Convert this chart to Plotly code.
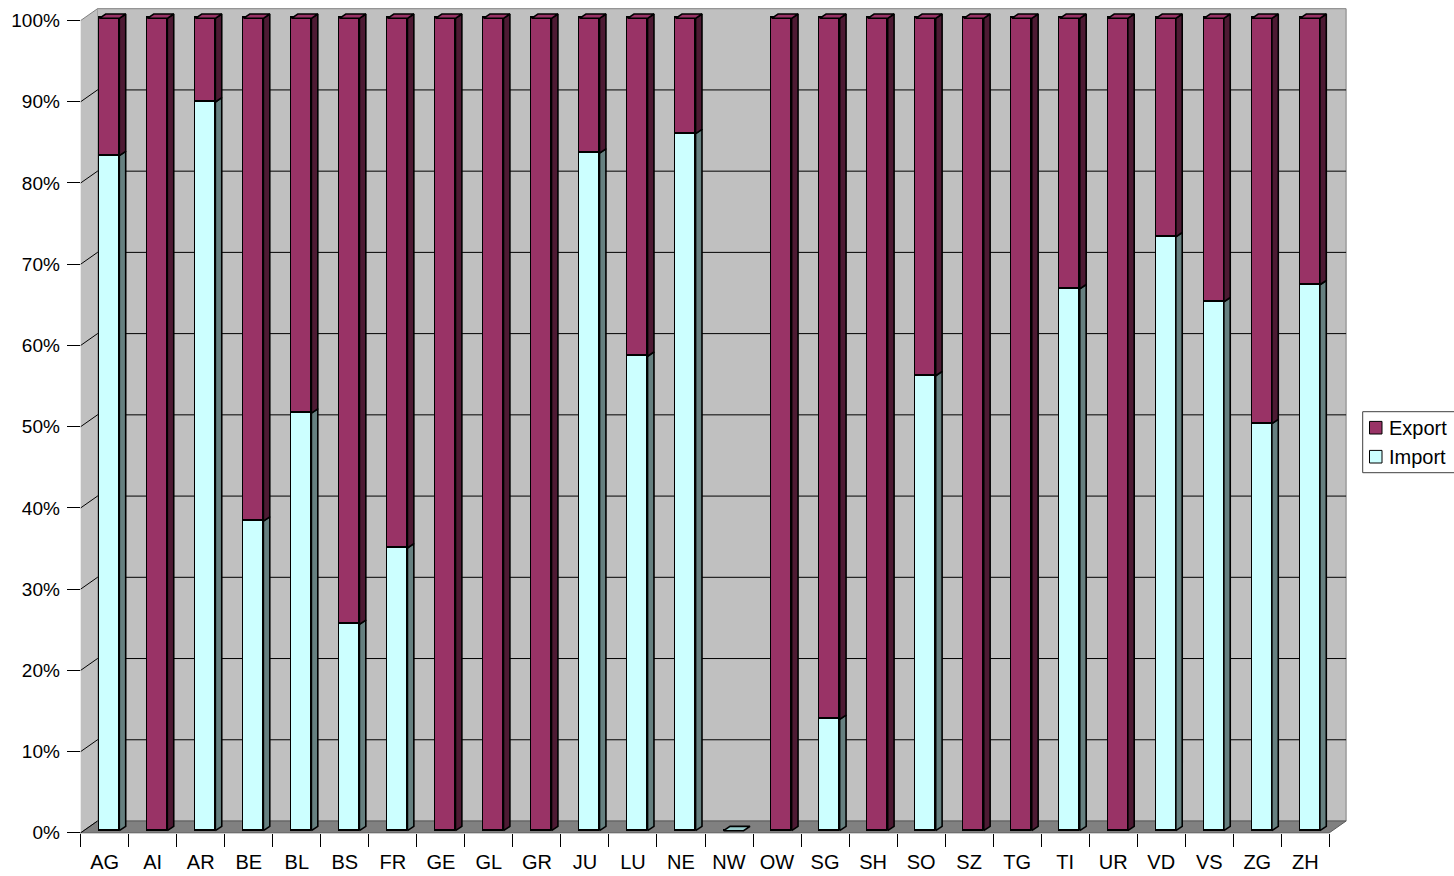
import plotly.graph_objects as go

# ---------------------------------------------------------------- data
cantons = ["AG", "AI", "AR", "BE", "BL", "BS", "FR", "GE", "GL", "GR", "JU", "LU", "NE",
           "NW", "OW", "SG", "SH", "SO", "SZ", "TG", "TI", "UR", "VD", "VS", "ZG", "ZH"]
import_pct = [83.1, 0, 89.7, 38.1, 51.4, 25.4, 34.8, 0, 0, 0, 83.4, 58.4, 85.8,
              0, 0, 13.7, 0, 56.0, 0, 0, 66.7, 0, 73.1, 65.1, 50.1, 67.2]
export_pct = [16.9, 100, 10.3, 61.9, 48.6, 74.6, 65.2, 100, 100, 100, 16.6, 41.6, 14.2,
              0, 100, 86.3, 100, 44.0, 100, 100, 33.3, 100, 26.9, 34.9, 49.9, 32.8]
pct_ticks = [0, 10, 20, 30, 40, 50, 60, 70, 80, 90, 100]
pct_labels = [f"{t}%" for t in pct_ticks]

# ---------------------------------------------------------------- style
W, H = 1454, 876
FONT = "Arial, Liberation Sans, sans-serif"
EXPORT_FRONT, EXPORT_SIDE = "#993366", "#4d1a33"
IMPORT_FRONT, IMPORT_SIDE = "#ccffff", "#668080"
WALL, FLOOR = "#c0c0c0", "#808080"

# pixel layout of the pseudo-3D box
FX0, FX1 = 80.7, 1329.3          # front plane, left / right
FY0, FY100 = 832.8, 20.5         # front plane, 0 % / 100 %
DX, DY = 16.8, -11.8             # depth of the box (front -> back wall)
BX0, BX1 = FX0 + DX, FX1 + DX
BY0, BY100 = FY0 + DY, FY100 + DY

# bars sit slightly behind the front plane
BAR_SHIFT_X, BAR_Y0, BAR_SCALE = 4.6, 830.7, 8.124
BAR_RANGE = [-0.8, 102.0]
BAR_W = 0.4165                   # front face width, in category units
SIDE_DX = 0.1333                 # bar depth, in category units
SIDE_DY = 0.53                   # bar depth, in percent units


def px(x):
    return x / W


def py(y):
    return 1 - y / H


def path(points):
    return "M " + " L ".join(f"{px(x):.6f},{py(y):.6f}" for x, y in points) + " Z"


def fy(v):
    return FY0 + (FY100 - FY0) * v / 100


def by(v):
    return BY0 + (BY100 - BY0) * v / 100


shapes = []
# back wall
shapes.append(dict(type="rect", xref="paper", yref="paper", layer="below",
                   x0=px(BX0), x1=px(BX1), y0=py(BY0), y1=py(BY100),
                   fillcolor=WALL, line=dict(color="#808080", width=1)))
# left side wall
shapes.append(dict(type="path", xref="paper", yref="paper", layer="below",
                   path=path([(FX0, FY0), (FX0, FY100), (BX0, BY100), (BX0, BY0)]),
                   fillcolor=WALL, line=dict(width=0)))
# floor
shapes.append(dict(type="path", xref="paper", yref="paper", layer="below",
                   path=path([(FX0, FY0), (FX1, FY0), (BX1, BY0), (BX0, BY0)]),
                   fillcolor=FLOOR, line=dict(color="#5a5a5a", width=1)))
# gridlines on the back wall and the side wall
for t in pct_ticks[1:-1]:
    shapes.append(dict(type="line", xref="paper", yref="paper", layer="below",
                       x0=px(BX0), x1=px(BX1), y0=py(by(t)), y1=py(by(t)),
                       line=dict(color="black", width=1)))
for t in pct_ticks[:-1]:
    shapes.append(dict(type="line", xref="paper", yref="paper", layer="below",
                       x0=px(FX0), x1=px(BX0), y0=py(fy(t)), y1=py(by(t)),
                       line=dict(color="black", width=1)))
shapes.append(dict(type="line", xref="paper", yref="paper", layer="below",
                   x0=px(FX0), x1=px(BX0), y0=py(fy(100)), y1=py(by(100)),
                   line=dict(color="#808080", width=1)))

# ---------------------------------------------------------------- bar faces
idx = list(range(len(cantons)))


def side_faces(lo_vals, hi_vals):
    xs, ys = [], []
    for i, lo, hi in zip(idx, lo_vals, hi_vals):
        if hi <= lo:
            continue
        xr = i + BAR_W / 2
        xs += [xr, xr + SIDE_DX, xr + SIDE_DX, xr, xr, None]
        ys += [lo, lo + SIDE_DY, hi + SIDE_DY, hi, lo, None]
    return xs, ys


def top_faces(tops, which):
    xs, ys = [], []
    for i, t, w in zip(idx, tops, which):
        if not w:
            continue
        xl, xr = i - BAR_W / 2, i + BAR_W / 2
        xs += [xl, xr, xr + SIDE_DX, xl + SIDE_DX, xl, None]
        ys += [t, t, t + SIDE_DY, t + SIDE_DY, t, None]
    return xs, ys


totals = [a + b for a, b in zip(import_pct, export_pct)]

fig = go.Figure()

# invisible trace that carries the category axis
fig.add_trace(go.Scatter(x=cantons, y=[0] * len(cantons), mode="markers",
                         marker=dict(opacity=0), hoverinfo="skip", showlegend=False))

outline = dict(color="black", width=1.6)
fig.add_trace(go.Bar(x=idx, y=import_pct, name="Import", width=BAR_W,
                     marker=dict(color=IMPORT_FRONT, line=outline),
                     xaxis="x3", yaxis="y3", showlegend=False))
fig.add_trace(go.Bar(x=idx, y=export_pct, name="Export", width=BAR_W,
                     marker=dict(color=EXPORT_FRONT, line=outline),
                     xaxis="x3", yaxis="y3", showlegend=False))

sx, sy = side_faces([0] * len(idx), import_pct)
fig.add_trace(go.Scatter(x=sx, y=sy, mode="lines", fill="toself", fillcolor=IMPORT_SIDE,
                         line=outline, xaxis="x3", yaxis="y3",
                         hoverinfo="skip", showlegend=False))
sx, sy = side_faces(import_pct, totals)
fig.add_trace(go.Scatter(x=sx, y=sy, mode="lines", fill="toself", fillcolor=EXPORT_SIDE,
                         line=outline, xaxis="x3", yaxis="y3",
                         hoverinfo="skip", showlegend=False))
tx, ty = top_faces(totals, [e > 0 for e in export_pct])
fig.add_trace(go.Scatter(x=tx, y=ty, mode="lines", fill="toself", fillcolor=EXPORT_FRONT,
                         line=outline, xaxis="x3", yaxis="y3",
                         hoverinfo="skip", showlegend=False))
tx, ty = top_faces(totals, [e == 0 for e in export_pct])
fig.add_trace(go.Scatter(x=tx, y=ty, mode="lines", fill="toself", fillcolor="#99cccc",
                         line=outline, xaxis="x3", yaxis="y3",
                         hoverinfo="skip", showlegend=False))

# ---------------------------------------------------------------- legend
LEG_X0, LEG_Y0, LEG_Y1 = 1362.7, 411.7, 472.7
shapes.append(dict(type="rect", xref="paper", yref="paper",
                   x0=px(LEG_X0), x1=px(W + 5), y0=py(LEG_Y1), y1=py(LEG_Y0),
                   fillcolor="white", line=dict(color="#404040", width=1)))
annotations = []
for label, color, cy in [("Export", EXPORT_FRONT, 427.7), ("Import", IMPORT_FRONT, 456.7)]:
    shapes.append(dict(type="rect", xref="paper", yref="paper",
                       x0=px(1369.5), x1=px(1382), y0=py(cy + 6.3), y1=py(cy - 6.3),
                       fillcolor=color, line=dict(color="black", width=1)))
    annotations.append(dict(text=label, xref="paper", yref="paper", x=px(1386.5), y=py(cy),
                            xanchor="left", yanchor="middle", showarrow=False,
                            font=dict(family=FONT, size=20, color="black")))

# ---------------------------------------------------------------- axes
bar_bottom = BAR_Y0 - BAR_RANGE[0] * BAR_SCALE
bar_top = BAR_Y0 - BAR_RANGE[1] * BAR_SCALE

fig.update_layout(
    template="none",
    width=W, height=H, autosize=False,
    margin=dict(l=0, r=0, t=0, b=0, pad=0),
    paper_bgcolor="white", plot_bgcolor="rgba(0,0,0,0)",
    barmode="stack", bargap=0,
    showlegend=False,
    font=dict(family=FONT, color="black"),
    shapes=shapes, annotations=annotations,
    xaxis=dict(domain=[px(FX0), px(FX1)], anchor="y", type="category", automargin=False,
               categoryorder="array", categoryarray=cantons, range=[-0.5, len(cantons) - 0.5],
               tickson="boundaries", ticks="outside", ticklen=13, tickwidth=1, tickcolor="black",
               showgrid=False, zeroline=False, showline=False, fixedrange=True,
               tickfont=dict(family=FONT, size=20, color="black"), ticklabelstandoff=15),
    yaxis=dict(domain=[py(FY0), py(FY100)], anchor="x", range=[0, 100], automargin=False,
               tickvals=pct_ticks, ticktext=pct_labels,
               ticks="outside", ticklen=13, tickwidth=1, tickcolor="black",
               showgrid=False, zeroline=False, showline=False, fixedrange=True,
               tickfont=dict(family=FONT, size=19, color="black"), ticklabelstandoff=3),
    xaxis3=dict(domain=[px(FX0 + BAR_SHIFT_X), px(FX1 + BAR_SHIFT_X)], anchor="y3",
                automargin=False, range=[-0.5, len(cantons) - 0.5], visible=False,
                fixedrange=True),
    yaxis3=dict(domain=[py(bar_bottom), py(bar_top)], anchor="x3", automargin=False,
                range=BAR_RANGE, visible=False, fixedrange=True),
)

fig.write_html("out.html")
